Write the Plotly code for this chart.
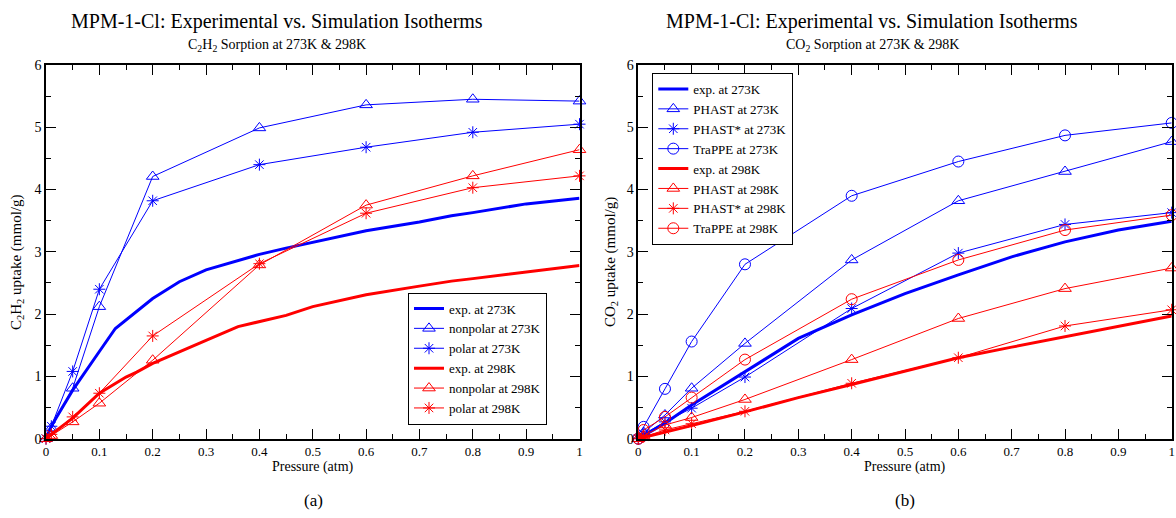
import plotly.graph_objects as go

# ---------------- data: panel (a) C2H2 ----------------
p_sim = [0, 0.01, 0.05, 0.1, 0.2, 0.4, 0.6, 0.8, 1.0]

c2h2_nonpolar_273 = [0, 0.17, 0.81, 2.12, 4.21, 4.99, 5.36, 5.45, 5.42]
c2h2_polar_273 = [0, 0.20, 1.08, 2.40, 3.82, 4.40, 4.68, 4.92, 5.05]
c2h2_nonpolar_298 = [0, 0.05, 0.27, 0.57, 1.26, 2.79, 3.75, 4.22, 4.64]
c2h2_polar_298 = [0, 0.07, 0.35, 0.73, 1.65, 2.81, 3.62, 4.03, 4.22]

c2h2_exp273_p = [0, 0.01, 0.02, 0.03, 0.05, 0.1, 0.13, 0.2, 0.25, 0.3, 0.35, 0.4, 0.45,
                 0.5, 0.55, 0.6, 0.7, 0.76, 0.8, 0.9, 1.0]
c2h2_exp273_q = [0, 0.2, 0.35, 0.5, 0.78, 1.40, 1.77, 2.25, 2.52, 2.71, 2.84, 2.96, 3.06,
                 3.15, 3.24, 3.34, 3.48, 3.58, 3.63, 3.77, 3.86]
c2h2_exp298_p = [0, 0.01, 0.05, 0.1, 0.15, 0.17, 0.2, 0.25, 0.3, 0.36, 0.4, 0.45, 0.5,
                 0.6, 0.7, 0.76, 0.8, 0.9, 1.0]
c2h2_exp298_q = [0, 0.07, 0.33, 0.73, 0.99, 1.07, 1.21, 1.40, 1.58, 1.80, 1.88, 1.98, 2.12,
                 2.31, 2.45, 2.53, 2.57, 2.68, 2.78]

# ---------------- data: panel (b) CO2 ----------------
co2_phast_273 = [0, 0.10, 0.38, 0.81, 1.53, 2.87, 3.82, 4.29, 4.77]
co2_phaststar_273 = [0, 0.07, 0.27, 0.49, 0.99, 2.09, 2.98, 3.44, 3.63]
co2_trappe_273 = [0, 0.19, 0.80, 1.56, 2.80, 3.90, 4.45, 4.87, 5.07]
co2_phast_298 = [0, 0.05, 0.22, 0.34, 0.63, 1.27, 1.93, 2.41, 2.74]
co2_phaststar_298 = [0, 0.03, 0.14, 0.24, 0.44, 0.89, 1.30, 1.81, 2.07]
co2_trappe_298 = [0, 0.14, 0.35, 0.66, 1.27, 2.24, 2.87, 3.35, 3.59]

co2_exp_p = [0, 0.05, 0.1, 0.2, 0.3, 0.4, 0.5, 0.6, 0.7, 0.8, 0.9, 1.0]
co2_exp273_q = [0, 0.25, 0.54, 1.08, 1.61, 1.99, 2.33, 2.63, 2.92, 3.16, 3.35, 3.49]
co2_exp298_q = [0, 0.10, 0.21, 0.43, 0.66, 0.87, 1.08, 1.30, 1.47, 1.64, 1.81, 1.97]

x_ticks = [0, 0.1, 0.2, 0.3, 0.4, 0.5, 0.6, 0.7, 0.8, 0.9, 1]
x_ticklabels = ["0", "0.1", "0.2", "0.3", "0.4", "0.5", "0.6", "0.7", "0.8", "0.9", "1"]
y_ticks = [0, 1, 2, 3, 4, 5, 6]

BLUE = "#0000ff"
RED = "#ff0000"
FONT = "Liberation Serif"
W, H = 1176, 518

fig = go.Figure()


def exp_trace(x, y, color, name, xa, ya, leg):
    return go.Scatter(x=x, y=y, mode="lines", name=name, line=dict(color=color, width=3),
                      xaxis=xa, yaxis=ya, legend=leg, cliponaxis=False)


def sim_trace(x, y, color, symbol, size, name, xa, ya, leg):
    return go.Scatter(x=x, y=y, mode="lines+markers", name=name,
                      line=dict(color=color, width=1),
                      marker=dict(symbol=symbol, size=size, color=color,
                                  line=dict(color=color, width=1)),
                      xaxis=xa, yaxis=ya, legend=leg, cliponaxis=False)


# panel (a)
fig.add_trace(exp_trace(c2h2_exp273_p, c2h2_exp273_q, BLUE, "exp. at 273K", "x", "y", "legend"))
fig.add_trace(sim_trace(p_sim, c2h2_nonpolar_273, BLUE, "triangle-up-open", 11, "nonpolar at 273K", "x", "y", "legend"))
fig.add_trace(sim_trace(p_sim, c2h2_polar_273, BLUE, "asterisk-open", 10, "polar at 273K", "x", "y", "legend"))
fig.add_trace(exp_trace(c2h2_exp298_p, c2h2_exp298_q, RED, "exp. at 298K", "x", "y", "legend"))
fig.add_trace(sim_trace(p_sim, c2h2_nonpolar_298, RED, "triangle-up-open", 11, "nonpolar at 298K", "x", "y", "legend"))
fig.add_trace(sim_trace(p_sim, c2h2_polar_298, RED, "asterisk-open", 10, "polar at 298K", "x", "y", "legend"))

# panel (b)
fig.add_trace(exp_trace(co2_exp_p, co2_exp273_q, BLUE, "exp. at 273K", "x2", "y2", "legend2"))
fig.add_trace(sim_trace(p_sim, co2_phast_273, BLUE, "triangle-up-open", 11, "PHAST at 273K", "x2", "y2", "legend2"))
fig.add_trace(sim_trace(p_sim, co2_phaststar_273, BLUE, "asterisk-open", 10, "PHAST* at 273K", "x2", "y2", "legend2"))
fig.add_trace(sim_trace(p_sim, co2_trappe_273, BLUE, "circle-open", 11, "TraPPE at 273K", "x2", "y2", "legend2"))
fig.add_trace(exp_trace(co2_exp_p, co2_exp298_q, RED, "exp. at 298K", "x2", "y2", "legend2"))
fig.add_trace(sim_trace(p_sim, co2_phast_298, RED, "triangle-up-open", 11, "PHAST at 298K", "x2", "y2", "legend2"))
fig.add_trace(sim_trace(p_sim, co2_phaststar_298, RED, "asterisk-open", 10, "PHAST* at 298K", "x2", "y2", "legend2"))
fig.add_trace(sim_trace(p_sim, co2_trappe_298, RED, "circle-open", 11, "TraPPE at 298K", "x2", "y2", "legend2"))


def px(x):
    return x / W


def py(y):
    return 1 - y / H


ydom = [py(438.7), py(65)]


def xaxis(dom, anchor):
    return dict(domain=dom, anchor=anchor, range=[0, 1], tickvals=x_ticks, ticktext=x_ticklabels,
                ticks="inside", ticklen=10, tickwidth=1, tickcolor="black",
                minor=dict(dtick=0.05, ticks="inside", ticklen=5, tickwidth=1, tickcolor="black"),
                showline=True, linecolor="black", linewidth=1.5, mirror="ticks",
                showgrid=False, zeroline=False, automargin=False, ticklabeloverflow="allow",
                tickfont=dict(family=FONT, size=13, color="black"))


def yaxis(anchor):
    return dict(domain=ydom, anchor=anchor, range=[0, 6], tickvals=y_ticks,
                ticks="inside", ticklen=10, tickwidth=1, tickcolor="black",
                minor=dict(dtick=0.5, ticks="inside", ticklen=5, tickwidth=1, tickcolor="black"),
                showline=True, linecolor="black", linewidth=1.5, mirror="ticks",
                showgrid=False, zeroline=False, automargin=False, ticklabeloverflow="allow",
                tickfont=dict(family=FONT, size=14, color="black"))


def legend(x, y, size, anchor):
    return dict(x=x, y=y, xanchor="left", yanchor=anchor, bgcolor="white",
                bordercolor="black", borderwidth=1, itemwidth=30,
                font=dict(family=FONT, size=size, color="black"), tracegroupgap=0)


annotations = []


def txt(text, xpx, ypx, size, angle=0):
    annotations.append(dict(text=text, x=px(xpx), y=py(ypx), xref="paper", yref="paper",
                            showarrow=False, textangle=angle, xanchor="center", yanchor="middle",
                            font=dict(family=FONT, size=size, color="black")))


txt("MPM-1-Cl: Experimental vs. Simulation Isotherms", 277, 21, 20)
txt("C<sub>2</sub>H<sub>2</sub> Sorption at 273K &amp; 298K", 277, 45, 14)
txt("MPM-1-Cl: Experimental vs. Simulation Isotherms", 872, 21, 20)
txt("CO<sub>2</sub> Sorption at 273K &amp; 298K", 872, 45, 14)
txt("C<sub>2</sub>H<sub>2</sub> uptake (mmol/g)", 17, 262, 15, -90)
txt("CO<sub>2</sub> uptake (mmol/g)", 611, 262, 15, -90)
txt("Pressure (atm)", 313, 467, 14)
txt("Pressure (atm)", 905, 467, 14)
txt("(a)", 313, 500, 17)
txt("(b)", 905, 500, 17)

fig.update_layout(
    width=W, height=H, margin=dict(l=0, r=0, t=0, b=0, autoexpand=False),
    paper_bgcolor="white", plot_bgcolor="white",
    xaxis=xaxis([px(46), px(579.5)], "y"),
    yaxis=yaxis("x"),
    xaxis2=xaxis([px(638.3), px(1171.7)], "y2"),
    yaxis2=yaxis("x2"),
    legend=legend(px(408), py(358.5), 13, "middle"),
    legend2=legend(px(652.3), py(73), 13, "top"),
    annotations=annotations,
    showlegend=True,
)

fig.write_html("out.html",
               config={"displayModeBar": False},
               post_script="document.body.style.margin='0px';"
                           "document.documentElement.style.overflow='hidden';")
